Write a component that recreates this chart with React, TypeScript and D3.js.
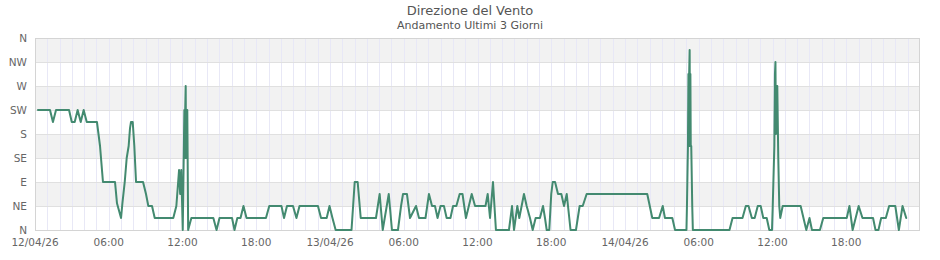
import React from 'react';
import * as d3 from 'd3';

// Hours since 12/04/26 00:00 and wind direction in degrees
const hours = [
  0.24, 1.22, 1.46, 1.71, 2.77, 2.99, 3.23, 3.47, 3.72, 3.96, 4.21, 5.04, 5.29, 5.53,
  6.51, 6.67, 7.00, 7.11, 7.30, 7.46, 7.62, 7.73, 7.81, 7.95, 8.08, 8.22,
  8.79, 9.03, 9.22, 9.52, 9.74, 11.25, 11.50, 11.72, 11.81, 11.90, 12.02, 12.15, 12.19,
  12.22, 12.26, 12.29, 12.32, 12.35, 12.39, 12.46, 12.72, 14.51, 14.77, 15.01, 16.03, 16.23, 16.46,
  16.72, 16.96, 17.21, 18.79, 19.06, 20.05, 20.26, 20.50, 20.99, 21.27, 21.52, 23.02,
  23.27, 23.73, 23.96, 24.20, 24.46, 25.75, 26.01, 26.25, 26.50, 27.74, 28.04, 28.29,
  28.78, 29.04, 29.53, 29.78, 29.94, 30.26, 30.51, 31.00, 31.24, 31.77, 32.05, 32.30,
  32.54, 32.75, 32.99, 33.27, 33.49, 33.80, 34.01, 34.28, 34.55, 34.78, 35.06, 35.53,
  35.80, 36.65, 36.83, 37.02, 37.26, 37.50, 38.56, 38.81, 38.97, 39.24, 39.40, 39.78,
  40.00, 40.27, 40.49, 40.73, 41.08, 41.33, 41.49, 41.63, 41.84, 42.00, 42.12, 42.31,
  42.55, 42.82, 43.04, 43.26, 43.57, 44.01, 44.31, 44.56, 44.88, 49.81, 50.22, 50.77,
  51.07, 51.25, 51.85, 52.07, 53.00, 53.04, 53.12, 53.16, 53.19, 53.22, 53.26, 53.29, 53.32,
  53.35, 53.39, 53.47, 53.52, 56.50, 56.75, 57.56, 57.83, 58.05, 58.32, 58.55, 58.80, 59.04,
  59.25, 59.53, 59.74, 59.96, 60.02, 60.15, 60.20, 60.24, 60.28, 60.32, 60.39, 60.47, 60.55, 60.63,
  60.83, 62.29, 62.75, 63.01, 63.21, 63.86, 64.13, 66.04, 66.26, 66.52, 67.01, 67.32,
  68.18, 68.38, 68.62, 68.84, 69.22, 69.49, 69.99, 70.28, 70.58, 70.88,
];
const degrees = [
  225, 225, 202.5, 225, 225, 202.5, 202.5, 225, 202.5, 225, 202.5, 202.5, 157.5, 90,
  90, 50, 22.5, 50, 90, 135, 157.5, 191, 202.5, 202.5, 157.5, 90,
  90, 67.5, 45, 45, 22.5, 22.5, 45, 112.5, 67.5, 112.5, 0, 225, 135,
  225, 270, 135, 225, 135, 225, 0, 22.5, 22.5, 0, 22.5, 22.5, 0, 22.5,
  22.5, 45, 22.5, 22.5, 45, 45, 22.5, 45, 45, 22.5, 45, 45,
  22.5, 22.5, 45, 22.5, 0, 0, 90, 90, 22.5, 22.5, 67.5, 0,
  67.5, 0, 0, 45, 67.5, 67.5, 22.5, 45, 22.5, 22.5, 67.5, 45,
  45, 22.5, 45, 45, 22.5, 22.5, 45, 45, 67.5, 67.5, 22.5, 67.5,
  45, 45, 67.5, 22.5, 90, 0, 0, 45, 0, 45, 22.5, 67.5,
  45, 22.5, 0, 22.5, 22.5, 45, 22.5, 0, 0, 67.5, 90, 90,
  67.5, 67.5, 45, 67.5, 0, 0, 45, 45, 67.5, 67.5, 22.5, 22.5,
  45, 22.5, 22.5, 0, 0, 45, 157.5, 292.5, 157.5, 292.5, 337.5, 157.5, 292.5,
  157.5, 157.5, 45, 0, 0, 22.5, 22.5, 45, 45, 22.5, 22.5, 45, 45,
  22.5, 22.5, 0, 0, 45, 157.5, 292.5, 315, 180, 270, 270, 135, 45, 22.5,
  45, 45, 0, 22.5, 0, 0, 22.5, 22.5, 45, 0, 45, 22.5,
  22.5, 0, 0, 22.5, 22.5, 45, 45, 0, 45, 22.5,
];

const yTickLabels = ['N', 'NE', 'E', 'SE', 'S', 'SW', 'W', 'NW', 'N'];
const yTickValues = [0, 45, 90, 135, 180, 225, 270, 315, 360];
const xTickHours = [0, 6, 12, 18, 24, 30, 36, 42, 48, 54, 60, 66];
const xTickLabels = ['12/04/26', '06:00', '12:00', '18:00', '13/04/26', '06:00', '12:00', '18:00', '14/04/26', '06:00', '12:00', '18:00'];
const gridHours = d3.range(1, 72);

const W = 940;
const H = 260;
const PL = 35, PR = 920, PT = 38, PB = 230;
const FONT = '"DejaVu Sans", Verdana, sans-serif';

export default function App() {
  const x = d3.scaleLinear().domain([0, 72]).range([PL, PR]);
  const y = d3.scaleLinear().domain([0, 360]).range([PB, PT]);
  const data = hours.map((h, i) => [h, degrees[i]] as [number, number]);
  const line = d3.line<[number, number]>().x(d => x(d[0])).y(d => y(d[1]));

  const bands = yTickValues.slice(0, -1).map((v, i) => ({ v0: v, v1: yTickValues[i + 1], fill: i % 2 === 1 }));

  return (
    <div style={{ position: 'absolute', left: 0, top: 0 }}>
      <svg width={W} height={H} style={{ display: 'block', fontFamily: FONT }}>
        <rect x={0} y={0} width={W} height={H} fill="#ffffff" />
        <text x={W / 2} y={15} textAnchor="middle" fontSize={13} fill="#555555">Direzione del Vento</text>
        <text x={W / 2} y={29} textAnchor="middle" fontSize={11} fill="#555555">Andamento Ultimi 3 Giorni</text>

        {bands.filter(b => b.fill).map((b, i) => (
          <rect key={'b' + i} x={PL} y={y(b.v1)} width={PR - PL} height={y(b.v0) - y(b.v1)} fill="#f2f2f2" />
        ))}
        {gridHours.map(h => (
          <line key={'v' + h} x1={Math.round(x(h)) + 0.5} x2={Math.round(x(h)) + 0.5} y1={PT} y2={PB} stroke="#e8e8f6" strokeWidth={1} />
        ))}
        {yTickValues.map((v, i) => (
          <line key={'h' + i} x1={PL} x2={PR} y1={Math.round(y(v)) + 0.5} y2={Math.round(y(v)) + 0.5} stroke="#e0e0e0" strokeWidth={1} />
        ))}
        <rect x={PL + 0.5} y={PT + 0.5} width={PR - PL - 1} height={PB - PT} fill="none" stroke="#d4d4d4" strokeWidth={1} />

        {yTickValues.map((v, i) => (
          <text key={'yl' + i} x={PL - 8} y={y(v)} dy="0.35em" textAnchor="end" fontSize={10.5} fill="#666666">{yTickLabels[i]}</text>
        ))}
        {xTickHours.map((h, i) => (
          <text key={'xl' + i} x={x(h)} y={246} textAnchor="middle" fontSize={10.5} fill="#666666">{xTickLabels[i]}</text>
        ))}

        <path d={line(data) || ''} fill="none" stroke="#438a70" strokeWidth={2} strokeLinejoin="round" strokeLinecap="round" />
      </svg>
    </div>
  );
}
